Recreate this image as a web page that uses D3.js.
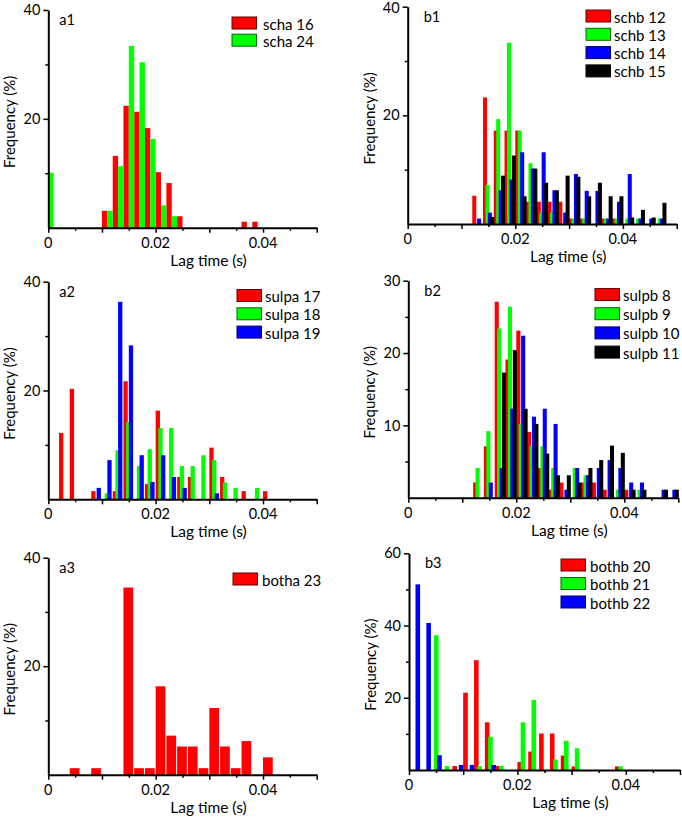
<!DOCTYPE html>
<html><head><meta charset="utf-8">
<script src="https://cdn.jsdelivr.net/npm/d3@7"></script>
<style>
body{margin:0;background:#fff}
svg{display:block}
text{font-family:Lato,"Open Sans",sans-serif;fill:#000}
</style>
</head><body>
<svg id="chart" width="682" height="819"></svg>
<script>
// ---------------- data ----------------
const xTickLabels = [0, 0.02, 0.04];
const xTickText = ["0", "0.02", "0.04"];
const xAxisTitle = "Lag time (s)";
const yAxisTitle = "Frequency (%)";

// a1
const a1Bins = [-0.001, 0.010, 0.012, 0.014, 0.016, 0.018, 0.020, 0.022, 0.024, 0.036, 0.038];
const a1Names = ["scha 16", "scha 24"];
const a1Scha16 = [0, 3.1, 13.2, 22.4, 21.3, 18.3, 10.2, 8.2, 2.1, 1.1, 1.1];
const a1Scha24 = [10.1, 3.1, 11.3, 33.4, 30.4, 16.3, 4.1, 2.1, 0, 0, 0];
const a1YTicks = [20, 40];

// b1
const b1Bins = [0.012, 0.014, 0.016, 0.018, 0.020, 0.022, 0.024, 0.026, 0.028, 0.030, 0.032, 0.034, 0.036, 0.038, 0.040, 0.042, 0.044, 0.046];
const b1Names = ["schb 12", "schb 13", "schb 14", "schb 15"];
const b1Schb12 = [5.2, 23.3, 17.2, 17.2, 17.2, 4.1, 4.1, 4.1, 4.1, 1, 1, 0, 1, 1, 0, 0, 0, 0];
const b1Schb13 = [0, 7.2, 19.3, 33.4, 17.2, 11.2, 2.1, 2.1, 0, 1, 1, 0, 1, 1, 1, 1, 0, 1];
const b1Schb14 = [1, 2.1, 6.2, 8.2, 13.2, 10.2, 13.2, 6.2, 2.1, 9.2, 6.1, 6.1, 1, 4.1, 9.2, 1, 1, 1];
const b1Schb15 = [0, 1.3, 8.9, 12.6, 5.1, 10.2, 7.6, 6.2, 8.9, 8.7, 5.1, 7.6, 5.1, 5.1, 1.2, 2.6, 1.2, 3.9];
const b1YTicks = [20, 40];

// a2
const a2Bins = [0.002, 0.004, 0.006, 0.008, 0.010, 0.012, 0.014, 0.016, 0.018, 0.020, 0.022, 0.024, 0.026, 0.028, 0.030, 0.032, 0.034, 0.036, 0.038, 0.040];
const a2Names = ["sulpa 17", "sulpa 18", "sulpa 19"];
const a2Sulpa17 = [12.2, 20.3, 0, 1.5, 0, 1.5, 21.7, 0, 2.8, 16.3, 0, 4.1, 4.1, 0, 9.5, 4.1, 0, 1.5, 0, 1.5];
const a2Sulpa18 = [0, 0, 0, 0, 1.1, 9, 14.2, 6.1, 9.2, 13.1, 13.1, 6.1, 6.1, 8.1, 7.2, 3.1, 2.1, 0, 2.1, 0];
const a2Sulpa19 = [0, 0, 0, 2.1, 7.2, 36.3, 28.3, 8.1, 3.2, 8.1, 4.1, 2.1, 0, 0, 1.1, 0, 0, 0, 0, 0];
const a2YTicks = [20, 40];

// b2
const b2Bins = [0.012, 0.014, 0.016, 0.018, 0.020, 0.022, 0.024, 0.026, 0.028, 0.030, 0.032, 0.034, 0.036, 0.038, 0.040, 0.042, 0.044, 0.046, 0.048];
const b2Names = ["sulpb 8", "sulpb 9", "sulpb 10", "sulpb 11"];
const b2Sulpb8 = [2.1, 7.1, 27.1, 19.1, 23.1, 9.1, 4.1, 1.1, 2.1, 0, 2.1, 2.1, 1.1, 0, 1.1, 0, 0, 0, 0];
const b2Sulpb9 = [4.1, 9.2, 23.4, 26.4, 10.2, 7.1, 7.1, 4.1, 0, 4.1, 3.1, 0, 0, 1.1, 0, 1.1, 0, 0, 0];
const b2Sulpb10 = [0, 2.1, 4.1, 12.3, 22.4, 11.2, 12.3, 10.2, 1.1, 4.1, 3.1, 4.1, 5.2, 4.1, 2.1, 2.1, 0, 1.1, 1.1];
const b2Sulpb11 = [0, 0, 17.3, 20.4, 12.3, 10.2, 6.1, 3.1, 3.1, 2.1, 4.1, 5.2, 7.2, 6.2, 1.1, 1.1, 0, 1.1, 1.1];
const b2YTicks = [10, 20, 30];

// a3
const a3Bins = [0.004, 0.008, 0.014, 0.016, 0.018, 0.020, 0.022, 0.024, 0.026, 0.028, 0.030, 0.032, 0.034, 0.036, 0.040];
const a3Names = ["botha 23"];
const a3Botha23 = [1.2, 1.2, 34.5, 1.2, 1.2, 16.3, 7.2, 5.2, 5.2, 1.2, 12.3, 5.2, 1.2, 6.2, 3.2];
const a3YTicks = [20, 40];

// b3
const b3Bins = [0.000, 0.002, 0.004, 0.006, 0.008, 0.010, 0.012, 0.014, 0.016, 0.018, 0.020, 0.022, 0.024, 0.026, 0.028, 0.030, 0.032, 0.034, 0.036, 0.038];
const b3Names = ["bothb 20", "bothb 21", "bothb 22"];
const b3Bothb20 = [0, 0, 0, 0, 1.1, 21.4, 30.4, 13.2, 1.1, 0, 2.2, 5.1, 10.1, 10.1, 4, 1, 0, 0, 0, 1];
const b3Bothb21 = [0, 0, 37.3, 1.1, 0, 0, 1.1, 9.2, 1.1, 0, 13.2, 19.4, 0, 2.9, 8.1, 6, 0, 0, 0, 1];
const b3Bothb22 = [51.4, 40.7, 4.1, 0, 1.4, 1.4, 0, 1.4, 0, 0, 0, 0, 0, 0, 0, 0, 0, 0, 0, 0];
const b3YTicks = [20, 40, 60];

// ---------------- styles / layout ----------------
const RED = "#ff0000", GREEN = "#00ff00", BLUE = "#0000ff", BLACK = "#000000";

const panels = [
  {label: "a1", bins: a1Bins, names: a1Names, values: [a1Scha16, a1Scha24], colors: [RED, GREEN],
   yTicks: a1YTicks, yMinor: 10, x0: 48.3, x1: 316.7, yB: 227.7, yT: 10,
   offsets: [0, 0.001], barW: 0.001, gap: 0,
   leg: {x: 232, y: 17, dy: 17.2, tx: 263}},
  {label: "b1", bins: b1Bins, names: b1Names, values: [b1Schb12, b1Schb13, b1Schb14, b1Schb15], colors: [RED, GREEN, BLUE, BLACK],
   yTicks: b1YTicks, yMinor: 10, x0: 407.7, x1: 676.7, yB: 224, yT: 6.7,
   offsets: [0, 0.00045, 0.0009, 0.00135], barW: 0.00075, gap: 0,
   leg: {x: 586, y: 10, dy: 18.3, tx: 614}},
  {label: "a2", bins: a2Bins, names: a2Names, values: [a2Sulpa17, a2Sulpa18, a2Sulpa19], colors: [RED, GREEN, BLUE],
   yTicks: a2YTicks, yMinor: 10, x0: 48.3, x1: 316.7, yB: 499.3, yT: 281.7,
   offsets: [0, 0.0005, 0.001], barW: 0.0008, gap: 0,
   leg: {x: 237, y: 289.5, dy: 18.3, tx: 265}},
  {label: "b2", bins: b2Bins, names: b2Names, values: [b2Sulpb8, b2Sulpb9, b2Sulpb10, b2Sulpb11], colors: [RED, GREEN, BLUE, BLACK],
   yTicks: b2YTicks, yMinor: 5, x0: 408.3, x1: 678.3, yB: 497.7, yT: 280.7,
   offsets: [0, 0.00045, 0.0009, 0.00135], barW: 0.00075, gap: 0,
   leg: {x: 595, y: 288.5, dy: 19.2, tx: 623}},
  {label: "a3", bins: a3Bins, names: a3Names, values: [a3Botha23], colors: [RED],
   yTicks: a3YTicks, yMinor: 10, x0: 48.3, x1: 316.7, yB: 774.7, yT: 557.7,
   offsets: [0], barW: 0.002, gap: 1,
   leg: {x: 233, y: 573, dy: 18, tx: 262}},
  {label: "b3", bins: b3Bins, names: b3Names, values: [b3Bothb20, b3Bothb21, b3Bothb22], colors: [RED, GREEN, BLUE],
   yTicks: b3YTicks, yMinor: 10, x0: 409, x1: 680, yB: 770, yT: 553.3,
   offsets: [0, 0.0006, 0.0012], barW: 0.00085, gap: 0,
   leg: {x: 561, y: 559, dy: 18.5, tx: 590}}
];

const svg = d3.select("#chart");

panels.forEach(p => {
  const yMax = d3.max(p.yTicks);
  const x = d3.scaleLinear().domain([0, 0.05]).range([p.x0, p.x1]);
  const y = d3.scaleLinear().domain([0, yMax]).range([p.yB, p.yT]);
  const g = svg.append("g");

  // bars
  p.values.forEach((vals, i) => {
    const data = p.bins.map((b, j) => ({b, v: vals[j]})).filter(d => d.v > 0);
    g.append("g").selectAll("rect").data(data).join("rect")
      .attr("x", d => x(d.b + p.offsets[i]))
      .attr("width", x(p.barW) - x(0) - p.gap)
      .attr("y", d => y(d.v))
      .attr("height", d => y(0) - y(d.v))
      .attr("fill", p.colors[i]);
  });

  // x axis
  const minorX = d3.range(0, 0.0501, 0.005).filter(v => Math.round(v * 1000) % 10 !== 0);
  const majorX = d3.range(0, 0.0501, 0.01);
  g.append("g").attr("transform", `translate(0,${p.yB})`)
    .call(d3.axisBottom(x).tickValues(minorX).tickSize(3).tickSizeOuter(0).tickFormat(""))
    .call(a => a.select(".domain").remove())
    .call(a => a.selectAll("line").attr("stroke-width", 1.5));
  g.append("g").attr("transform", `translate(0,${p.yB})`)
    .call(d3.axisBottom(x).tickValues(majorX).tickSize(5).tickSizeOuter(0).tickFormat(""))
    .call(a => a.select(".domain").attr("stroke-width", 2))
    .call(a => a.selectAll("line").attr("stroke-width", 1.5));
  g.selectAll(".xlab").data(xTickLabels).join("text")
    .attr("x", d => x(d)).attr("y", p.yB + 20)
    .attr("text-anchor", "middle").attr("font-size", 14.5)
    .text((d, i) => xTickText[i]);
  g.append("text")
    .attr("x", (p.x0 + p.x1) / 2 + 26).attr("y", p.yB + 38)
    .attr("text-anchor", "middle").attr("font-size", 15.5)
    .text(xAxisTitle);

  // y axis
  const minorY = d3.range(p.yMinor, yMax + 0.01, p.yMinor).filter(v => !p.yTicks.includes(v));
  g.append("g").attr("transform", `translate(${p.x0},0)`)
    .call(d3.axisLeft(y).tickValues(minorY).tickSize(3).tickSizeOuter(0).tickFormat(""))
    .call(a => a.select(".domain").remove())
    .call(a => a.selectAll("line").attr("stroke-width", 1.5));
  g.append("g").attr("transform", `translate(${p.x0},0)`)
    .call(d3.axisLeft(y).tickValues(p.yTicks).tickSize(5).tickSizeOuter(0).tickFormat(d3.format("d")).tickPadding(3))
    .call(a => a.select(".domain").attr("stroke-width", 2))
    .call(a => a.selectAll("line").attr("stroke-width", 1.5))
    .call(a => a.selectAll("text").attr("font-size", 14.5).attr("font-family", "Lato,'Open Sans',sans-serif")
      .attr("y", v => Math.max(0, 8 - y(v))));
  g.append("text")
    .attr("transform", `translate(${p.x0 - 39},${(p.yT + p.yB) / 2 + 3}) rotate(-90)`)
    .attr("text-anchor", "middle").attr("dominant-baseline", "central").attr("font-size", 15)
    .text(yAxisTitle);

  // panel label
  g.append("text").attr("x", p.x0 + (p.label[0] === "a" ? 11 : 16)).attr("y", p.yT + 15)
    .attr("font-size", 14.5).text(p.label);

  // legend
  const lg = g.append("g");
  p.names.forEach((n, i) => {
    lg.append("rect").attr("x", p.leg.x).attr("y", p.leg.y + i * p.leg.dy)
      .attr("width", 24.5).attr("height", 12)
      .attr("fill", p.colors[i]).attr("stroke", d3.color(p.colors[i]).darker(2.5)).attr("stroke-width", 1);
    lg.append("text").attr("x", p.leg.tx).attr("y", p.leg.y + i * p.leg.dy + 6.5)
      .attr("dominant-baseline", "central").attr("font-size", 15).text(n);
  });
});
</script>
</body></html>
